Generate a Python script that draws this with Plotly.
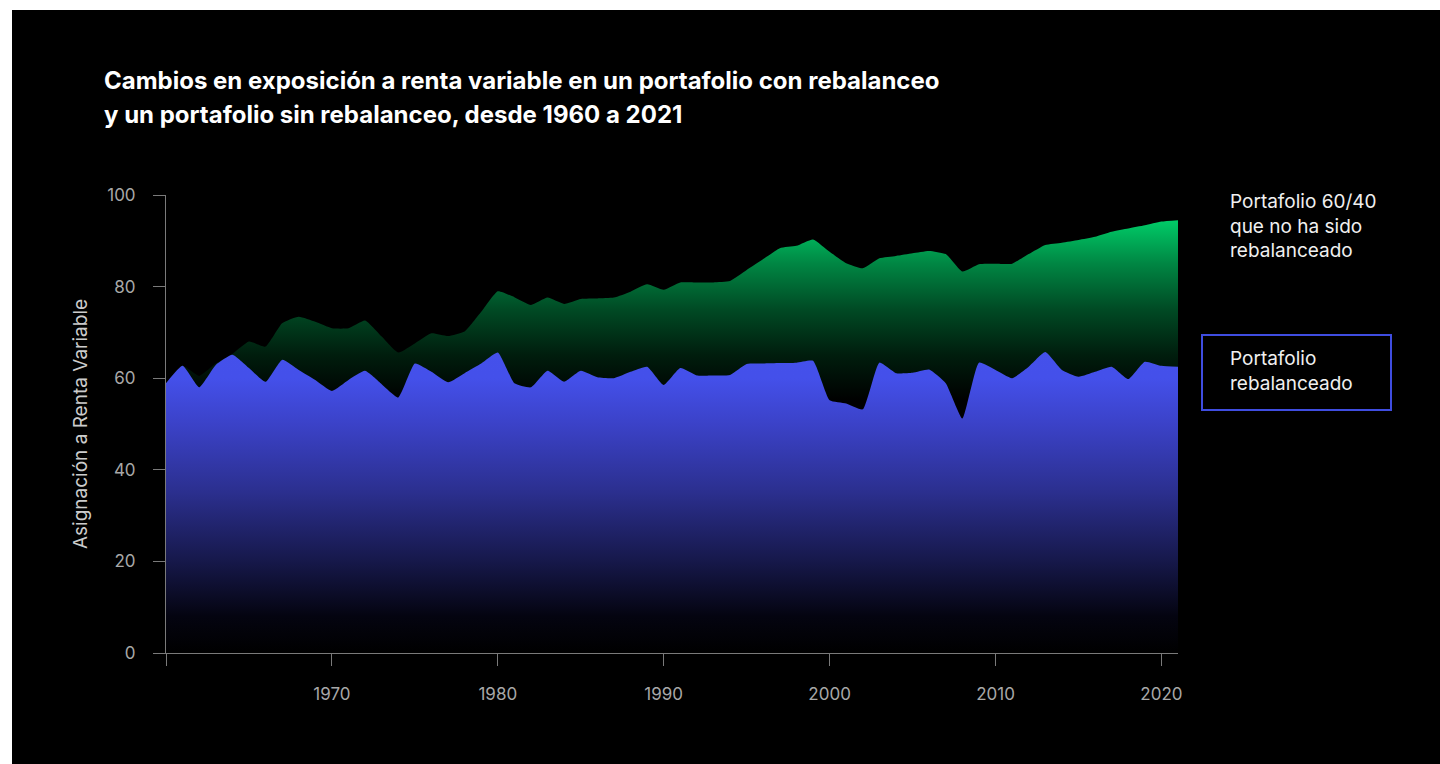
import plotly.graph_objects as go

years = list(range(1960, 2022))

rebalanced = [58.9, 62.7, 58.0, 62.9, 65.1, 62.2, 59.2, 64.0, 61.8, 59.6,
              57.2, 59.6, 61.6, 58.7, 55.8, 63.2, 61.4, 59.1, 61.1, 63.2,
              65.6, 58.9, 58.0, 61.6, 59.2, 61.6, 60.2, 60.0, 61.4, 62.5,
              58.5, 62.2, 60.6, 60.6, 60.7, 63.1, 63.2, 63.3, 63.4, 63.8,
              55.2, 54.5, 53.2, 63.4, 61.1, 61.2, 61.9, 58.9, 51.2, 63.4,
              61.8, 60.0, 62.5, 65.7, 61.8, 60.3, 61.4, 62.5, 59.8, 63.6,
              62.7, 62.5]

not_rebalanced = [58.9, 62.7, 60.5, 63.2, 65.3, 68.0, 66.9, 72.0, 73.4, 72.3,
                  70.9, 70.9, 72.6, 69.1, 65.6, 67.6, 69.8, 69.2, 70.2, 74.5,
                  79.0, 77.7, 76.0, 77.6, 76.2, 77.3, 77.4, 77.6, 78.9, 80.5,
                  79.3, 80.9, 80.9, 80.9, 81.2, 83.6, 86.0, 88.4, 88.9, 90.3,
                  87.6, 85.1, 84.0, 86.2, 86.7, 87.3, 87.8, 87.1, 83.3, 84.9,
                  85.0, 85.0, 87.1, 89.1, 89.6, 90.2, 90.9, 92.0, 92.7, 93.4,
                  94.2, 94.5]

title_lines = ["Cambios en exposición a renta variable en un portafolio con rebalanceo",
               "y un portafolio sin rebalanceo, desde 1960 a 2021"]
label_green = "Portafolio 60/40<br>que no ha sido<br>rebalanceado"
label_blue = "Portafolio<br>rebalanceado"
y_title = "Asignación a Renta Variable"
x_ticks = [1960, 1970, 1980, 1990, 2000, 2010, 2020]
x_ticktext = ["", "1970", "1980", "1990", "2000", "2010", "2020"]
y_ticks = [0, 20, 40, 60, 80, 100]

W, H = 1440, 764
L, R, T, B = 166, 1178, 195, 653   # plot area in pixels


def px(x):
    return (x - L) / (R - L)


def py(y):
    return (B - y) / (B - T)


FONT = "Inter"

fig = go.Figure()

fig.add_trace(go.Scatter(
    x=years, y=not_rebalanced, mode="lines", fill="tozeroy",
    line=dict(width=0, shape="spline", smoothing=0.45, color="rgba(0,0,0,0)"),
    fillgradient=dict(type="vertical", start=0, stop=100,
                      colorscale=[[0, "#000000"], [0.55, "#000000"],
                                  [0.65, "#001d0d"], [0.75, "#004a24"],
                                  [0.85, "#008643"], [0.95, "#00d06a"],
                                  [1, "#00d870"]]),
    hoverinfo="skip", showlegend=False))

fig.add_trace(go.Scatter(
    x=years, y=rebalanced, mode="lines", fill="tozeroy",
    line=dict(width=0, shape="spline", smoothing=0.45, color="rgba(0,0,0,0)"),
    fillgradient=dict(type="vertical", start=0, stop=100,
                      colorscale=[[0, "#000000"], [0.08, "#040410"],
                                  [0.2, "#16184a"], [0.35, "#2b2f8e"],
                                  [0.5, "#3b42c8"], [0.6, "#4450ea"],
                                  [1, "#4652f0"]]),
    hoverinfo="skip", showlegend=False))

axis_color = "#7a7a7a"
tick_font = dict(family=FONT, size=17, color="#a8a8a8")

fig.update_xaxes(range=[1960, 2021], tickvals=x_ticks, ticktext=x_ticktext,
                 showgrid=False, zeroline=False, showline=True,
                 linecolor=axis_color, linewidth=1, ticks="outside",
                 ticklen=12, tickcolor=axis_color, tickfont=tick_font,
                 ticklabelstandoff=14)
fig.update_yaxes(range=[0, 100], tickvals=y_ticks, showgrid=False,
                 zeroline=False, showline=True, linecolor=axis_color,
                 linewidth=1, ticks="outside", ticklen=12,
                 tickcolor=axis_color, tickfont=tick_font,
                 ticklabelstandoff=14,
                 title=dict(text=y_title, standoff=14,
                            font=dict(family=FONT, size=19, color="#cccccc")))

shapes = [
    dict(type="rect", xref="paper", yref="paper", layer="below",
         x0=px(12), x1=px(W + 5), y0=py(H + 5), y1=py(10),
         fillcolor="#000000", line=dict(width=0)),
    dict(type="rect", xref="paper", yref="paper",
         x0=px(1202), x1=px(1391), y0=py(410), y1=py(335),
         line=dict(color="#3f4de0", width=2), fillcolor="rgba(0,0,0,0)"),
]

annotations = []
for i, line in enumerate(title_lines):
    annotations.append(dict(
        text=line, xref="paper", yref="paper", x=px(102), y=py(81 + i * 33),
        xanchor="left", yanchor="middle", showarrow=False,
        font=dict(family=FONT, size=24, color="#ffffff", weight=700)))

annotations.append(dict(
    text=label_green, xref="paper", yref="paper", x=px(1228), y=py(188),
    xanchor="left", yanchor="top", align="left", showarrow=False,
    font=dict(family=FONT, size=19, color="#f0f0f0")))
annotations.append(dict(
    text=label_blue, xref="paper", yref="paper", x=px(1228), y=py(345),
    xanchor="left", yanchor="top", align="left", showarrow=False,
    font=dict(family=FONT, size=19, color="#f0f0f0")))

fig.update_layout(
    width=W, height=H,
    margin=dict(l=L, r=W - R, t=T, b=H - B),
    paper_bgcolor="#ffffff", plot_bgcolor="rgba(0,0,0,0)",
    shapes=shapes, annotations=annotations,
    font=dict(family=FONT),
)

fig.write_html("out.html")
